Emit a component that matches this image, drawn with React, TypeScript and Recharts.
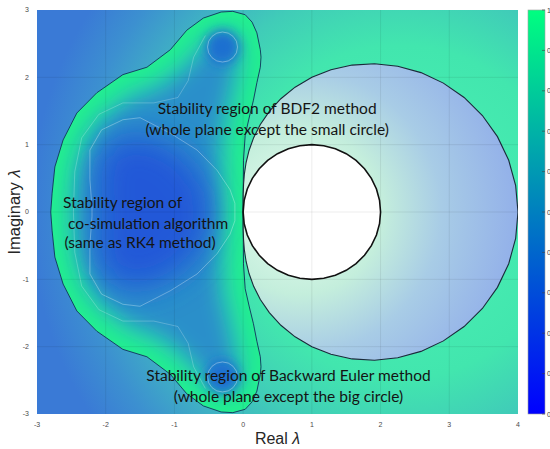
import React from 'react';
import { ScatterChart, Scatter, XAxis, YAxis, Customized } from 'recharts';

type P = [number, number];

// ---------- axes / ticks ----------
const xTicks = [-3, -2, -1, 0, 1, 2, 3, 4];
const yTicks = [-3, -2, -1, 0, 1, 2, 3];
const colorbarTicks = ['1', '0.9', '0.8', '0.7', '0.6', '0.5', '0.4', '0.3', '0.2', '0.1', '0'];

// ---------- plot corners (background) ----------
const plotCorners: P[] = [[-3, 3], [4, 3], [4, -3], [-3, -3]];

// ---------- RK4 (co-simulation) stability boundary, upper half ----------
const rk4Upper: P[] = [
  [0, 0], [0.005, 0.77], [0.03, 1.14], [0.09, 1.41], [0.15, 1.66], [0.2, 1.92], [0.25, 2.15],
  [0.26, 2.3], [0.25, 2.41], [0.2, 2.66], [0.13, 2.82], [0.03, 2.93], [-0.15, 2.98], [-0.32, 2.97],
  [-0.58, 2.88], [-0.82, 2.7], [-1.06, 2.41], [-1.4, 2.15], [-1.75, 2.04], [-2.13, 1.77],
  [-2.42, 1.47], [-2.62, 1.07], [-2.74, 0.67], [-2.78, 0.28], [-2.8, 0],
];

// extent of the deepest-blue basin (|R| smallest), upper half
const basinUpper: P[] = [
  [-0.45, 0], [-0.5, 0.35], [-0.75, 0.75], [-1.1, 1.02], [-1.5, 1.15], [-1.85, 1.1], [-2.08, 0.88],
  [-2.15, 0.5], [-2.12, 0],
];

// inner contour loop around the deep-blue basin, upper half
const rk4InnerUpper: P[] = [
  [-0.12, 0], [-0.12, 0.13], [-0.19, 0.33], [-0.38, 0.62], [-0.67, 0.92], [-1.06, 1.17],
  [-1.5, 1.4], [-1.75, 1.37], [-2.06, 1.22], [-2.23, 0.92], [-2.23, 0.48], [-2.2, 0.07], [-2.2, 0],
];

// a second faint contour running from the upper lobe down to the lower lobe
const rk4OuterContour: P[] = [
  [-0.55, 2.62], [-0.72, 2.3], [-0.8, 1.95], [-0.95, 1.7], [-1.3, 1.62], [-1.75, 1.62], [-2.1, 1.45],
  [-2.35, 1.1], [-2.45, 0.6], [-2.47, 0], [-2.45, -0.6], [-2.35, -1.1], [-2.1, -1.45], [-1.75, -1.62],
  [-1.3, -1.62], [-0.95, -1.7], [-0.8, -1.95], [-0.72, -2.3], [-0.55, -2.62],
];

// the two small contour circles in the lobes
const lobeCenters: P[] = [[-0.3, 2.45], [-0.3, -2.45]];

// ---------- BDF2 boundary (big circle), upper half ----------
const bdf2Upper: P[] = [
  [0, 0], [0, 0.132], [0.001, 0.268], [0.006, 0.412], [0.018, 0.567], [0.043, 0.735], [0.086, 0.914],
  [0.153, 1.104], [0.25, 1.299], [0.381, 1.494], [0.549, 1.682], [0.756, 1.854], [1.0, 2.0],
  [1.278, 2.112], [1.585, 2.182], [1.912, 2.201], [2.25, 2.165], [2.588, 2.07], [2.914, 1.914],
  [3.216, 1.701], [3.482, 1.433], [3.701, 1.119], [3.865, 0.768], [3.966, 0.391], [4, 0],
];

// ---------- Backward Euler boundary (small circle), upper half ----------
const beUpper: P[] = [
  [2, 0], [1.985, 0.174], [1.94, 0.342], [1.866, 0.5], [1.766, 0.643], [1.643, 0.766], [1.5, 0.866],
  [1.342, 0.94], [1.174, 0.985], [1, 1], [0.826, 0.985], [0.658, 0.94], [0.5, 0.866], [0.357, 0.766],
  [0.234, 0.643], [0.134, 0.5], [0.06, 0.342], [0.015, 0.174], [0, 0],
];

// ---------- annotations ----------
const annotations = [
  { x: 0.35, y: 1.54, text: 'Stability region of BDF2 method', anchor: 'middle' },
  { x: 0.35, y: 1.23, text: '(whole plane except the small circle)', anchor: 'middle' },
  { x: -2.62, y: 0.15, text: 'Stability region of', anchor: 'start' },
  { x: -2.55, y: -0.16, text: 'co-simulation algorithm', anchor: 'start' },
  { x: -2.6, y: -0.45, text: '(same as RK4 method)', anchor: 'start' },
  { x: 0.66, y: -2.42, text: 'Stability region of Backward Euler method', anchor: 'middle' },
  { x: 0.66, y: -2.74, text: '(whole plane except the big circle)', anchor: 'middle' },
];

// ---------- helpers ----------
const loop = (upper: P[]) => {
  const lower = upper.slice(1, -1).reverse().map(([x, y]) => [x, -y] as P);
  return [...upper, ...lower].map(([x, y]) => ({ x, y }));
};
const pts = (list: P[]) => list.map(([x, y]) => ({ x, y }));

const pathOf = (points: { x: number; y: number }[], closed: boolean) =>
  points.map((p, i) => `${i ? 'L' : 'M'}${p.x.toFixed(2)},${p.y.toFixed(2)}`).join(' ') + (closed ? ' Z' : '');

const Empty = () => <g />;

const bgData = pts(plotCorners);
const rk4Data = loop(rk4Upper);
const basinData = loop(basinUpper);
const rk4InnerData = loop(rk4InnerUpper);
const rk4OuterData = pts(rk4OuterContour);
const bdf2Data = loop(bdf2Upper);
const beData = loop(beUpper);
const lobeData = pts(lobeCenters);

const vGrid = xTicks.slice(1, -1).map((t) => pts([[t, -3], [t, 3]]));
const hGrid = yTicks.slice(1, -1).map((t) => pts([[-3, t], [4, t]]));

// ---------- renderers ----------
const bgLine = (p: any) => <path d={pathOf(p.points, true)} fill="url(#bgGrad)" stroke="none" />;

const rk4Fill = (p: any) => {
  const d = pathOf(p.points, true);
  return (
    <g>
      <defs>
        <clipPath id="rk4Clip">
          <path d={d} />
        </clipPath>
      </defs>
      <path d={d} fill="#22f08e" />
      <g clipPath="url(#rk4Clip)">
        <path d={d} fill="#2a8fca" stroke="#24f08e" strokeWidth={40} filter="url(#blurM)" />
      </g>
    </g>
  );
};

const basinBlob = (p: any) => (
  <g clipPath="url(#rk4Clip)">
    <path d={pathOf(p.points, true)} fill="#2058d8" filter="url(#blurL)" />
  </g>
);

const faintClosed = (p: any) => (
  <path d={pathOf(p.points, true)} fill="none" stroke="#ffffff" strokeOpacity={0.3} strokeWidth={1} />
);

const faintOpen = (p: any) => (
  <path d={pathOf(p.points, false)} fill="none" stroke="#ffffff" strokeOpacity={0.22} strokeWidth={1} />
);

const lobeShape = (p: any) => (
  <g clipPath="url(#rk4Clip)">
    <circle cx={p.cx} cy={p.cy} r={17} fill="#1f70d0" filter="url(#blurS)" />
    <circle cx={p.cx} cy={p.cy} r={15} fill="none" stroke="#ffffff" strokeOpacity={0.35} strokeWidth={1} />
  </g>
);

const rk4Outline = (p: any) => (
  <path d={pathOf(p.points, true)} fill="none" stroke="#12305e" strokeWidth={0.9} />
);

const bdf2Line = (p: any) => (
  <path d={pathOf(p.points, true)} fill="url(#bdfGrad)" stroke="#1b2a3a" strokeWidth={1.1} />
);

const beLine = (p: any) => (
  <path d={pathOf(p.points, true)} fill="#ffffff" stroke="#111111" strokeWidth={1.6} />
);

const gridLine = (p: any) => (
  <path d={pathOf(p.points, false)} fill="none" stroke="#000000" strokeOpacity={0.11} strokeWidth={0.7} />
);

const textShape = (p: any) => (
  <text
    x={p.cx}
    y={p.cy}
    textAnchor={p.payload.anchor}
    dominantBaseline="central"
    fontFamily="Lato, 'Open Sans', sans-serif"
    fontSize={15.5}
    fill="#141414"
  >
    {p.payload.text}
  </text>
);

const Defs = () => (
  <defs>
    <radialGradient id="bgGrad" gradientUnits="userSpaceOnUse" cx={400} cy={212} r={370}>
      <stop offset="0" stopColor="#4cf2b4" />
      <stop offset="0.45" stopColor="#42e6ae" />
      <stop offset="0.62" stopColor="#40ccb8" />
      <stop offset="0.75" stopColor="#3fb0c4" />
      <stop offset="0.88" stopColor="#3c90d0" />
      <stop offset="1" stopColor="#3a7ad6" />
    </radialGradient>
    <radialGradient id="bdfGrad" gradientUnits="userSpaceOnUse" cx={300} cy={212} r={235}>
      <stop offset="0" stopColor="#e8fff0" />
      <stop offset="0.35" stopColor="#c4eedc" />
      <stop offset="0.6" stopColor="#a8cce6" />
      <stop offset="1" stopColor="#8eaaea" />
    </radialGradient>
    <linearGradient id="winter" x1="0" y1="0" x2="0" y2="1">
      <stop offset="0" stopColor="#00ff80" />
      <stop offset="1" stopColor="#0000ff" />
    </linearGradient>
    <filter id="blurS" x="-50%" y="-50%" width="200%" height="200%">
      <feGaussianBlur stdDeviation={6} />
    </filter>
    <filter id="blurM" x="-30%" y="-30%" width="160%" height="160%">
      <feGaussianBlur stdDeviation={12} />
    </filter>
    <filter id="blurL" x="-40%" y="-40%" width="180%" height="180%">
      <feGaussianBlur stdDeviation={16} />
    </filter>
  </defs>
);

const ColorBar = () => {
  const x = 528;
  const y0 = 10;
  const h = 404;
  const w = 17;
  const n = colorbarTicks.length - 1;
  return (
    <g>
      <rect x={x} y={y0} width={w} height={h} fill="url(#winter)" stroke="#a0a0a0" strokeWidth={0.6} />
      {colorbarTicks.map((t, i) => {
        const ty = y0 + (i * h) / n;
        return (
          <g key={t}>
            <line x1={x + w - 3} x2={x + w} y1={ty} y2={ty} stroke="#404040" strokeWidth={0.6} />
            <text x={x + w + 2} y={ty} fontSize={7} dominantBaseline="central" fill="#404040" fontFamily="'Liberation Sans', Arial, sans-serif">
              {t}
            </text>
          </g>
        );
      })}
    </g>
  );
};

const XLabel = (props: any) => {
  const vb = props.viewBox || { x: 37, y: 414, width: 481, height: 35 };
  return (
    <text x={vb.x + vb.width / 2} y={vb.y + 24} textAnchor="middle" dominantBaseline="central" fontSize={16} fill="#262626" fontFamily="'Liberation Sans', Arial, sans-serif">
      Real <tspan fontStyle="italic">λ</tspan>
    </text>
  );
};

const YLabel = (props: any) => {
  const vb = props.viewBox || { x: 0, y: 10, width: 37, height: 404 };
  const cx = 14;
  const cy = vb.y + vb.height / 2;
  return (
    <text x={cx} y={cy} transform={`rotate(-90 ${cx} ${cy})`} textAnchor="middle" dominantBaseline="central" fontSize={16.5} fill="#262626" fontFamily="'Liberation Sans', Arial, sans-serif">
      Imaginary <tspan fontStyle="italic">λ</tspan>
    </text>
  );
};

const tickStyle = { fontSize: 7, fill: '#4a4a4a', fontFamily: "'Liberation Sans', Arial, sans-serif" };

export default function App() {
  return (
    <div style={{ position: 'absolute', left: 0, top: 0, width: 550, height: 449, background: '#ffffff' }}>
      <ScatterChart width={550} height={449} margin={{ top: 10, right: 32, bottom: 0, left: 0 }}>
        <Customized component={Defs} />
        <XAxis
          type="number"
          dataKey="x"
          domain={[-3, 4]}
          ticks={xTicks}
          allowDataOverflow
          axisLine={false}
          tickLine={false}
          tick={tickStyle}
          height={35}
          label={XLabel}
        />
        <YAxis
          type="number"
          dataKey="y"
          domain={[-3, 3]}
          ticks={yTicks}
          allowDataOverflow
          axisLine={false}
          tickLine={false}
          tick={tickStyle}
          width={37}
          label={YLabel}
        />
        <Scatter data={bgData} line={bgLine} shape={Empty} isAnimationActive={false} />
        <Scatter data={rk4Data} line={rk4Fill} shape={Empty} isAnimationActive={false} />
        <Scatter data={basinData} line={basinBlob} shape={Empty} isAnimationActive={false} />
        <Scatter data={lobeData} shape={lobeShape} isAnimationActive={false} />
        <Scatter data={rk4InnerData} line={faintClosed} shape={Empty} isAnimationActive={false} />
        <Scatter data={rk4OuterData} line={faintOpen} shape={Empty} isAnimationActive={false} />
        <Scatter data={rk4Data} line={rk4Outline} shape={Empty} isAnimationActive={false} />
        <Scatter data={bdf2Data} line={bdf2Line} shape={Empty} isAnimationActive={false} />
        <Scatter data={beData} line={beLine} shape={Empty} isAnimationActive={false} />
        {vGrid.map((g, i) => (
          <Scatter key={`v${i}`} data={g} line={gridLine} shape={Empty} isAnimationActive={false} />
        ))}
        {hGrid.map((g, i) => (
          <Scatter key={`h${i}`} data={g} line={gridLine} shape={Empty} isAnimationActive={false} />
        ))}
        <Scatter data={annotations} shape={textShape} isAnimationActive={false} />
        <Customized component={ColorBar} />
      </ScatterChart>
    </div>
  );
}
